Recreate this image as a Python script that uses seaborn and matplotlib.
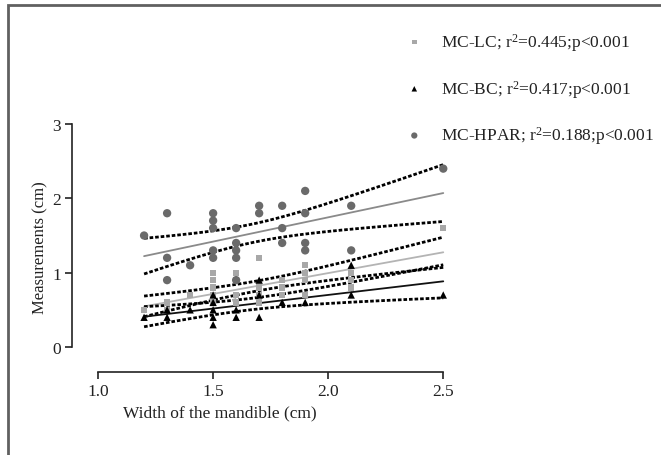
import matplotlib
matplotlib.use("Agg")
import matplotlib.pyplot as plt
import numpy as np
import pandas as pd
import seaborn as sns
from matplotlib.patches import Rectangle

lc_x = [1.2, 1.3, 1.3, 1.4, 1.5, 1.5, 1.5, 1.5, 1.5, 1.6, 1.6, 1.6, 1.6,
        1.7, 1.7, 1.7, 1.7, 1.8, 1.8, 1.8, 1.9, 1.9, 1.9, 1.9, 2.1, 2.1, 2.1, 2.5]
lc_y = [0.5, 0.6, 0.5, 0.7, 1.0, 0.9, 0.8, 0.7, 0.6, 1.0, 0.9, 0.7, 0.6,
        1.2, 0.8, 0.7, 0.6, 0.9, 0.8, 0.7, 1.1, 1.0, 0.9, 0.7, 1.0, 0.9, 0.8, 1.6]

bc_x = [1.2, 1.3, 1.3, 1.4, 1.5, 1.5, 1.5, 1.5, 1.5, 1.6, 1.6,
        1.7, 1.7, 1.7, 1.8, 1.9, 2.1, 2.1, 2.5]
bc_y = [0.4, 0.5, 0.4, 0.5, 0.7, 0.6, 0.5, 0.4, 0.3, 0.5, 0.4,
        0.9, 0.7, 0.4, 0.6, 0.6, 1.1, 0.7, 0.7]

hpar_x = [1.2, 1.3, 1.3, 1.3, 1.4, 1.5, 1.5, 1.5, 1.5, 1.5, 1.6, 1.6, 1.6, 1.6, 1.6,
          1.7, 1.7, 1.8, 1.8, 1.8, 1.9, 1.9, 1.9, 1.9, 2.1, 2.1, 2.5]
hpar_y = [1.5, 1.8, 1.2, 0.9, 1.1, 1.8, 1.7, 1.6, 1.3, 1.2, 1.6, 1.4, 1.3, 1.2, 0.9,
          1.9, 1.8, 1.9, 1.6, 1.4, 2.1, 1.8, 1.4, 1.3, 1.9, 1.3, 2.4]

labels = ["MC-LC; r$^{2}$=0.445;p<0.001",
          "MC-BC; r$^{2}$=0.417;p<0.001",
          "MC-HPAR; r$^{2}$=0.188;p<0.001"]

sns.set_style("ticks")
plt.rcParams["font.family"] = ["Liberation Serif", "DejaVu Serif"]
plt.rcParams["mathtext.fontset"] = "custom"
plt.rcParams["mathtext.rm"] = "Liberation Serif"
plt.rcParams["mathtext.it"] = "Liberation Serif"
plt.rcParams["mathtext.default"] = "regular"

fig = plt.figure(figsize=(6.61, 4.56), dpi=100)
ax = fig.add_axes([0.109, 0.182, 0.579, 0.552])

series = [
    (lc_x, lc_y, "s", "#a8a8a8", "#b4b4b4", 20),
    (bc_x, bc_y, "^", "#000000", "#111111", 28),
    (hpar_x, hpar_y, "o", "#6a6a6a", "#8a8a8a", 36),
]

for (xs, ys, mk, col, lcol, sz), lab in zip(series, labels):
    df = pd.DataFrame({"x": xs, "y": ys})
    sns.scatterplot(data=df, x="x", y="y", marker=mk, color=col, s=sz,
                    edgecolor="none", ax=ax, label=lab, zorder=3)
    sns.regplot(data=df, x="x", y="y", scatter=False, ci=None, ax=ax,
                line_kws={"color": lcol, "lw": 1.3, "zorder": 2})
    # 95% confidence band drawn as dotted curves
    x = np.asarray(xs)
    y = np.asarray(ys)
    n = len(x)
    b, a = np.polyfit(x, y, 1)
    resid = y - (a + b * x)
    s = np.sqrt(np.sum(resid ** 2) / (n - 2))
    sxx = np.sum((x - x.mean()) ** 2)
    xg = np.linspace(x.min(), x.max(), 100)
    se = s * np.sqrt(1.0 / n + (xg - x.mean()) ** 2 / sxx)
    t = 2.06
    for sign in (1, -1):
        ax.plot(xg, a + b * xg + sign * t * se, color="black", lw=2.0,
                ls=(0, (1.3, 0.7)), zorder=2)

ax.set_xlim(0.887, 2.55)
ax.set_ylim(-0.336, 3.05)
ax.set_xticks([1.0, 1.5, 2.0, 2.5])
ax.set_xticklabels(["1.0", "1.5", "2.0", "2.5"])
ax.set_yticks([0, 1, 2, 3])
sns.despine(ax=ax)
ax.spines["left"].set_bounds(0, 3)
ax.spines["bottom"].set_bounds(1.0, 2.5)
for sp in ("left", "bottom"):
    ax.spines[sp].set_linewidth(1.2)
    ax.spines[sp].set_color("#222222")
ax.tick_params(direction="out", length=5, width=1.2, colors="#222222",
               labelsize=12.5, labelcolor="#222222", pad=3)
ax.set_xlabel("Width of the mandible (cm)", fontsize=12.5, color="#222222")
ax.xaxis.set_label_coords(0.386, -0.13)
ax.set_ylabel("Measurements (cm)", fontsize=12, color="#222222")
ax.yaxis.set_label_coords(-0.062, 0.5)

leg = ax.legend(loc="upper left", bbox_to_anchor=(0.59, 0.945),
                bbox_transform=fig.transFigure, frameon=False, fontsize=12.5,
                labelspacing=1.43, handletextpad=0.55, markerscale=0.75,
                borderaxespad=0)
for txt in leg.get_texts():
    txt.set_color("#222222")

# outer gray frame (only left and top edges visible)
fig.add_artist(Rectangle((8 / 661, -0.5), 2.0, 1.5 - 6 / 456,
                         transform=fig.transFigure, fill=False,
                         edgecolor="#606060", lw=2.0))

fig.savefig("out.png", dpi=100)
